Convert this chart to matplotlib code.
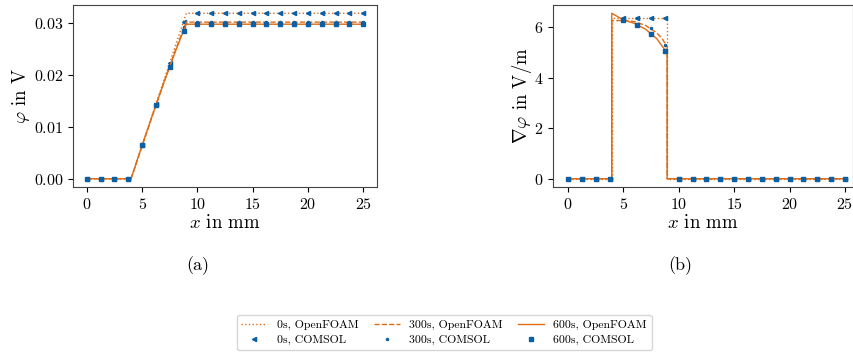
import matplotlib
matplotlib.use("Agg")
import matplotlib.pyplot as plt

plt.rcParams['font.family'] = 'cmr10'
plt.rcParams['mathtext.fontset'] = 'cm'
plt.rcParams['axes.formatter.use_mathtext'] = True
plt.rcParams['font.size'] = 11.5

orange = '#de6c14'
blue = '#0a5fa5'

# OpenFOAM potential
x_phi = [0, 4, 5, 6, 7, 8, 8.5, 9, 25]
phi_0 = [0, 0, 0.00636, 0.01272, 0.01908, 0.02544, 0.02862, 0.0318, 0.0318]
phi_300 = [0, 0, 0.00626, 0.01251, 0.01865, 0.02458, 0.02741, 0.0301, 0.0301]
phi_600 = [0, 0, 0.00642, 0.01264, 0.01868, 0.02441, 0.02711, 0.0297, 0.0297]

# OpenFOAM gradient
x_grad = [0, 3.95, 3.95, 5, 6, 7, 8, 8.5, 8.95, 8.95, 25]
grad_0 = [0, 0, 6.36, 6.36, 6.36, 6.36, 6.36, 6.36, 6.36, 0, 0]
grad_300 = [0, 0, 6.25, 6.27, 6.22, 6.07, 5.78, 5.55, 5.22, 0, 0]
grad_600 = [0, 0, 6.55, 6.29, 6.15, 5.92, 5.55, 5.25, 4.98, 0, 0]

# COMSOL
x_com = [0, 1.25, 2.5, 3.75, 5, 6.25, 7.5, 8.75, 10, 11.25, 12.5, 13.75, 15,
         16.25, 17.5, 18.75, 20, 21.25, 22.5, 23.75, 25]
com_phi_0 = [0, 0, 0, 0, 0.0064, 0.0143, 0.0223, 0.0302] + [0.0318] * 13
com_phi_300 = [0, 0, 0, 0, 0.0063, 0.0142, 0.0219, 0.0291] + [0.0301] * 13
com_phi_600 = [0, 0, 0, 0, 0.0064, 0.0141, 0.0215, 0.0283] + [0.0297] * 13
com_grad_0 = [0, 0, 0, 0, 6.38, 6.38, 6.38, 6.38] + [0] * 13
com_grad_300 = [0, 0, 0, 0, 6.33, 6.35, 5.98, 5.30] + [0] * 13
com_grad_600 = [0, 0, 0, 0, 6.29, 6.09, 5.71, 5.06] + [0] * 13

fig = plt.figure(figsize=(8.54, 3.56), dpi=100)
ax1 = fig.add_axes([73 / 854, 1 - 187 / 356, 304 / 854, 182 / 356])
ax2 = fig.add_axes([553 / 854, 1 - 187 / 356, 300 / 854, 182 / 356])

for ax, ys, cs in [(ax1, (phi_0, phi_300, phi_600), (com_phi_0, com_phi_300, com_phi_600)),
                   (ax2, (grad_0, grad_300, grad_600), (com_grad_0, com_grad_300, com_grad_600))]:
    xl = x_phi if ax is ax1 else x_grad
    ax.plot(xl, ys[0], ls=':', color=orange, lw=1, label='0s, OpenFOAM')
    ax.plot(x_com, cs[0], ls='none', marker='<', ms=3, color=blue, label='0s, COMSOL')
    ax.plot(xl, ys[1], ls='--', color=orange, lw=1, label='300s, OpenFOAM')
    ax.plot(x_com, cs[1], ls='none', marker='.', ms=3, color=blue, label='300s, COMSOL')
    ax.plot(xl, ys[2], ls='-', color=orange, lw=1, label='600s, OpenFOAM')
    ax.plot(x_com, cs[2], ls='none', marker='s', ms=2.5, color=blue, label='600s, COMSOL')
    ax.set_xlabel(r'$x$ in mm', fontsize=13.5, labelpad=2)
    ax.set_xticks([0, 5, 10, 15, 20, 25])
    ax.tick_params(labelsize=11.5)
    for s in ax.spines.values():
        s.set_color('#444444')

ax2.set_xlim(-1.35, 25.72)
ax1.set_ylabel(r'$\varphi$ in V', fontsize=13.5, labelpad=1)
ax2.set_ylabel(r'$\nabla\varphi$ in V/m', fontsize=13.5, labelpad=0)
ax1.set_yticks([0, 0.01, 0.02, 0.03])
ax2.set_yticks([0, 2, 4, 6])

fig.text(198 / 854, 1 - 266 / 356, '(a)', ha='center', va='center', fontsize=13)
fig.text(680 / 854, 1 - 266 / 356, '(b)', ha='center', va='center', fontsize=13)

handles, labels = ax1.get_legend_handles_labels()
fig.legend(handles, labels, loc='center', bbox_to_anchor=(0.52, 0.066), ncol=3,
           fontsize=8.5, columnspacing=1.3, handlelength=2.2, borderpad=0.4,
           labelspacing=0.4, fancybox=True)

fig.savefig('out.png', dpi=100)
